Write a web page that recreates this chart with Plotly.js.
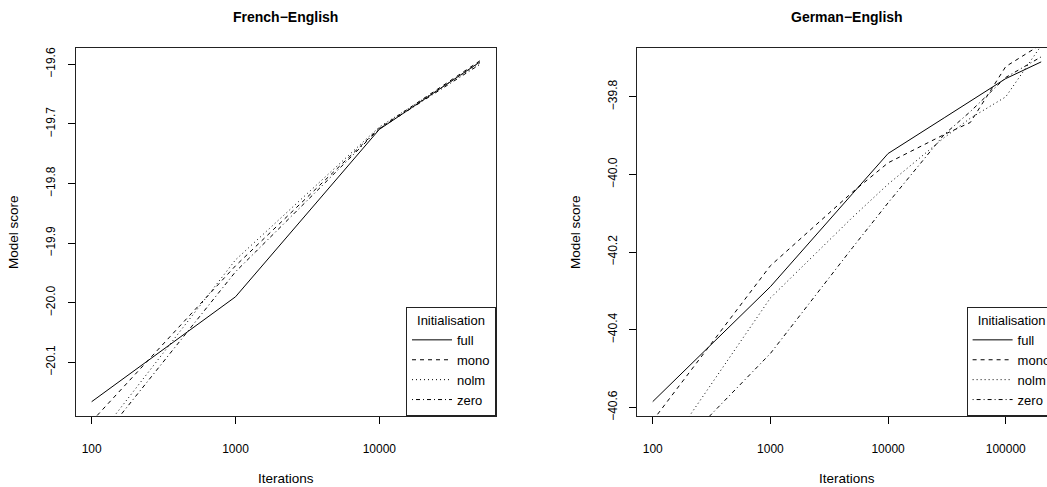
<!DOCTYPE html>
<html>
<head>
<meta charset="utf-8">
<script src="https://cdn.plot.ly/plotly-3.0.1.min.js"></script>
<style>
html, body { margin:0; padding:0; overflow:hidden; background:#fff; width:1047px; height:487px; }
#chart { width:1124px; height:487px; }
</style>
</head>
<body>
<div id="chart"></div>
<script>
// ---- Data ----
const seriesNames = ["full", "mono", "nolm", "zero"];

// French–English panel
const x_fr = [100, 1000, 10000, 50000];
const full_fr = [-20.166, -19.990, -19.709, -19.596];
const mono_fr = [-20.199, -19.938, -19.707, -19.594];
const nolm_fr = [-20.239, -19.928, -19.705, -19.598];
const zero_fr = [-20.249, -19.948, -19.708, -19.600];

// German–English panel
const x_de = [100, 1000, 5000, 10000, 30000, 50000, 100000, 200000];
const full_de = [-40.585, -40.289, -40.049, -39.946, -39.854, -39.811, -39.753, -39.710];
const mono_de = [-40.634, -40.235, -40.045, -39.970, -39.897, -39.866, -39.722, -39.665];
const nolm_de = [-40.760, -40.318, -40.110, -40.025, -39.905, -39.855, -39.800, -39.668];
const zero_de = [-40.773, -40.461, -40.188, -40.073, -39.897, -39.838, -39.750, -39.697];

const xTicks_fr = [100, 1000, 10000];
const xTickText_fr = ["100", "1000", "10000"];
const xTicks_de = [100, 1000, 10000, 100000];
const xTickText_de = ["100", "1000", "10000", "100000"];
const yTicks_fr = [-20.1, -20.0, -19.9, -19.8, -19.7, -19.6];
const yTicks_de = [-40.6, -40.4, -40.2, -40.0, -39.8];

const legendTitle = "Initialisation";
const titles = ["French\u2212English", "German\u2212English"];
const xTitle = "Iterations";
const yTitle = "Model score";

// ---- Styles ----
const dashes = {
  full: "solid",
  mono: "4px,4px",
  nolm: "1px,3px",
  zero: "1px,3px,4px,3px"
};

const W = 1124, H = 487;
const frY = {full: full_fr, mono: mono_fr, nolm: nolm_fr, zero: zero_fr};
const deY = {full: full_de, mono: mono_de, nolm: nolm_de, zero: zero_de};

const traces = [];
seriesNames.forEach(n => {
  traces.push({
    x: x_fr, y: frY[n], name: n, type: "scatter", mode: "lines",
    xaxis: "x", yaxis: "y", legend: "legend",
    line: {color: "black", width: 1, dash: dashes[n]}
  });
});
seriesNames.forEach(n => {
  traces.push({
    x: x_de, y: deY[n], name: n, type: "scatter", mode: "lines",
    xaxis: "x2", yaxis: "y2", legend: "legend2",
    line: {color: "black", width: 1, dash: dashes[n]}
  });
});

function xAxis(domain, range, tv, tt, anchor) {
  return {
    domain: domain, type: "log", range: range, anchor: anchor,
    tickvals: tv, ticktext: tt,
    ticks: "outside", ticklen: 7, tickwidth: 1, tickcolor: "black",
    showline: true, mirror: true, linecolor: "#222", linewidth: 1,
    showgrid: false, zeroline: false, ticklabelstandoff: 15,
    tickfont: {size: 12}
  };
}
function yAxis(domain, range, tv, anchor) {
  return {
    domain: domain, range: range, anchor: anchor,
    tickvals: tv, tickformat: ".1f", tickangle: -90,
    ticks: "outside", ticklen: 7, tickwidth: 1, tickcolor: "black",
    showline: true, mirror: true, linecolor: "#222", linewidth: 1,
    showgrid: false, zeroline: false, ticklabelstandoff: 8,
    tickfont: {size: 12}
  };
}

const yDom = [1 - 416 / H, 1 - 48.3 / H];
function legendCfg(xRight) {
  return {
    x: xRight / W, xanchor: "right", y: 1 - 416 / H, yanchor: "bottom",
    bgcolor: "white", bordercolor: "#222", borderwidth: 1,
    font: {size: 13, color: "black"},
    title: {text: legendTitle, side: "top center", font: {size: 13}},
    itemwidth: 40, tracegroupgap: 0
  };
}

const ann = [];
function addText(text, px, py, opts) {
  ann.push(Object.assign({
    text: text, x: px / W, y: 1 - py / H, xref: "paper", yref: "paper",
    showarrow: false, xanchor: "center", yanchor: "middle",
    font: {size: 13.5, color: "black"}
  }, opts || {}));
}
addText("<b>" + titles[0] + "</b>", 285.9, 17, {font: {size: 14, color: "black"}});
addText("<b>" + titles[1] + "</b>", 847, 17, {font: {size: 14, color: "black"}});
addText(xTitle, 285.9, 478);
addText(xTitle, 847, 478);
addText(yTitle, 14, 232, {textangle: -90});
addText(yTitle, 576, 232, {textangle: -90});

const layout = {
  width: W, height: H,
  margin: {l: 0, r: 0, t: 0, b: 0},
  paper_bgcolor: "white", plot_bgcolor: "white",
  font: {family: "Liberation Sans, Arial, Helvetica, sans-serif", size: 12, color: "black"},
  xaxis: xAxis([75.7 / W, 496 / W], [1.889, 4.811], xTicks_fr, xTickText_fr, "y"),
  yaxis: yAxis(yDom, [-20.19, -19.573], yTicks_fr, "x"),
  xaxis2: xAxis([637.3 / W, 1056.6 / W], [1.869, 5.432], xTicks_de, xTickText_de, "y2"),
  yaxis2: yAxis(yDom, [-40.622, -39.675], yTicks_de, "x2"),
  legend: legendCfg(496),
  legend2: legendCfg(1056.6),
  showlegend: true,
  annotations: ann
};

Plotly.newPlot("chart", traces, layout, {displayModeBar: false, responsive: false, staticPlot: true});
</script>
</body>
</html>
